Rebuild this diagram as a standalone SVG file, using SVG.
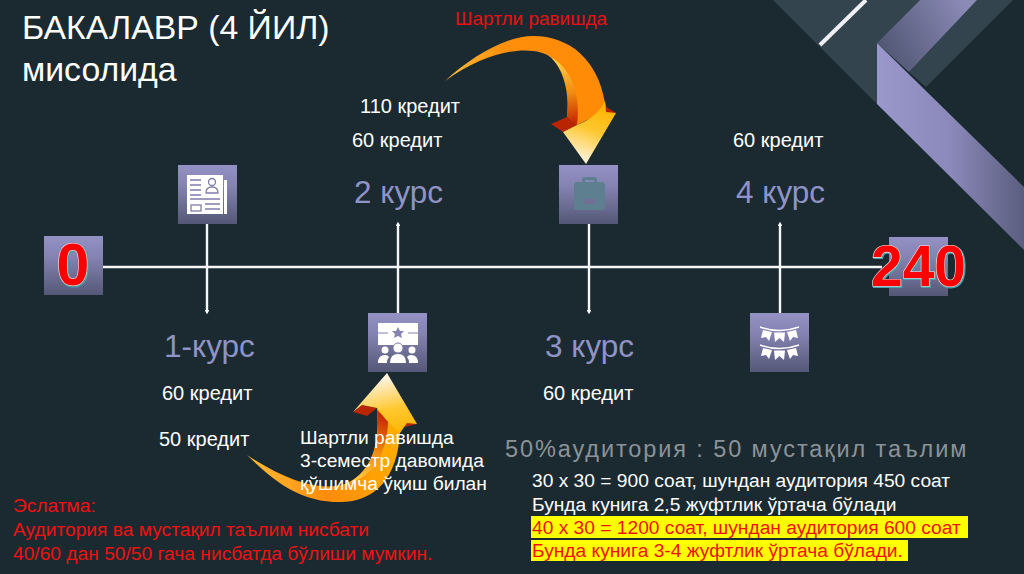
<svg xmlns="http://www.w3.org/2000/svg" width="1024" height="574" viewBox="0 0 1024 574">
<defs>
<linearGradient id="box" x1="0" y1="0" x2="0" y2="1"><stop offset="0" stop-color="#9491c4"/><stop offset="0.35" stop-color="#8583b2"/><stop offset="1" stop-color="#545876"/></linearGradient>
<linearGradient id="band" gradientUnits="userSpaceOnUse" x1="877" y1="0" x2="1024" y2="0"><stop offset="0" stop-color="#9a98cc"/><stop offset="0.5" stop-color="#8b89ba"/><stop offset="1" stop-color="#5a5e7e"/></linearGradient>
<linearGradient id="band2" gradientUnits="userSpaceOnUse" x1="885" y1="60" x2="970" y2="10"><stop offset="0" stop-color="#4f5672"/><stop offset="1" stop-color="#8c8bb8"/></linearGradient>
<linearGradient id="org1" gradientUnits="userSpaceOnUse" x1="445" y1="80" x2="610" y2="80"><stop offset="0" stop-color="#ffbe3a"/><stop offset="0.35" stop-color="#ff8f0c"/><stop offset="1" stop-color="#ff8a05"/></linearGradient>
<linearGradient id="inner1" gradientUnits="userSpaceOnUse" x1="560" y1="60" x2="572" y2="122"><stop offset="0" stop-color="#ffd14a"/><stop offset="0.55" stop-color="#f08a10"/><stop offset="1" stop-color="#c82a00"/></linearGradient>
<linearGradient id="head1" gradientUnits="userSpaceOnUse" x1="600" y1="105" x2="580" y2="160"><stop offset="0" stop-color="#ffb400"/><stop offset="0.45" stop-color="#ffc830"/><stop offset="1" stop-color="#fff3de"/></linearGradient>
<linearGradient id="org2" gradientUnits="userSpaceOnUse" x1="250" y1="480" x2="400" y2="440"><stop offset="0" stop-color="#ffbe3a"/><stop offset="0.45" stop-color="#ff8c0a"/><stop offset="1" stop-color="#ffae00"/></linearGradient>
<linearGradient id="inner2" gradientUnits="userSpaceOnUse" x1="378" y1="415" x2="358" y2="484"><stop offset="0" stop-color="#c82a00"/><stop offset="0.5" stop-color="#f08a10"/><stop offset="1" stop-color="#ffd14a"/></linearGradient>
<linearGradient id="head2" gradientUnits="userSpaceOnUse" x1="398" y1="435" x2="385" y2="378"><stop offset="0" stop-color="#ffb400"/><stop offset="0.45" stop-color="#ffc830"/><stop offset="1" stop-color="#fff3de"/></linearGradient>
<marker id="tip" viewBox="0 0 6 6" refX="3" refY="3" markerWidth="2" markerHeight="2" orient="auto"><path d="M0 0L6 3L0 6Z" fill="#fff"/></marker>
<g id="garland"><path d="M0 0q20 7 39 0" fill="none" stroke="#fff" stroke-width="1.500"/><polygon points="3,3 12,5 9,14 6,10 1,11" fill="#fff"/><polygon points="14,5.500 25,5.500 24,15 19.500,11 15,15" fill="#fff"/><polygon points="27,5 36,3 38,11 33,10 30,14" fill="#fff"/></g>
</defs>
<style>
text{font-family:"Liberation Sans",Arial,sans-serif}
.t{font-size:20px;fill:#fff}
.c{font-size:31.500px;fill:#8f93c6}
.r{font-size:19px;fill:#e81010}
.w{font-size:19.200px;fill:#fff}
.h{font-size:19.200px;fill:#f01010}
.n{font-weight:bold;fill:#ff0000;stroke:#ffe0e0;stroke-width:1.2;paint-order:stroke}
.s{font-weight:bold;fill:#43a0ac;stroke:#43a0ac;stroke-width:2}
.b{fill:url(#box)}
.l{stroke:#f4f6f8;stroke-width:2.4;fill:none}
.i{fill:#fff}
.d{fill:#b82500}
</style>
<rect width="1024" height="574" fill="#1b2a30"/>
<g id="decor">
<polygon points="773,0 877,104 877,43 920,0" fill="#33444f"/>
<polygon points="909,72 977,0 1013,0 926,87" fill="#33444f"/>
<polygon points="877,43 920,0 977,0 909,72" fill="url(#band2)"/>
<polygon points="877,43 1024,187 1024,250 877,104" fill="url(#band)"/>
<line x1="820" y1="45" x2="866" y2="0" stroke="#eef0f6" stroke-width="4"/>
</g>
<g id="connectors">
<line class="l" x1="102" y1="267" x2="882" y2="267"/>
<line class="l" x1="207" y1="224" x2="207" y2="312" marker-end="url(#tip)"/>
<line class="l" x1="398" y1="313" x2="398" y2="224" marker-end="url(#tip)"/>
<line class="l" x1="589" y1="224" x2="589" y2="312" marker-end="url(#tip)"/>
<line class="l" x1="780" y1="313" x2="780" y2="224" marker-end="url(#tip)"/>
</g>
<g id="node-0">
<rect class="b" x="44" y="236" width="59" height="59"/>
<text x="74" y="286" text-anchor="middle" font-size="59" class="s">0</text>
<text x="73" y="285" text-anchor="middle" font-size="59" class="n">0</text>
</g>
<g id="node-240">
<rect class="b" x="889" y="237" width="59" height="59"/>
<text x="919.500" y="287" text-anchor="middle" font-size="57" class="s">240</text>
<text x="918.500" y="286" text-anchor="middle" font-size="57" class="n">240</text>
</g>
<g id="node-1">
<rect class="b" x="178" y="165" width="59" height="59"/>
<rect class="i" x="187" y="175" width="36" height="39"/>
<rect class="i" x="224" y="180" width="3" height="34"/>
<path d="M190 180h11M190 185h11M190 190h11M190 195h11M190 199h30M205 204h15M205 209h15" stroke="#7f7eaa" stroke-width="1.3" fill="none"/>
<circle cx="212" cy="182" r="3.500" fill="none" stroke="#7f7eaa" stroke-width="1.300"/>
<path d="M206 193q0-6 6-6t6 6z" fill="none" stroke="#7f7eaa" stroke-width="1.300"/>
<rect x="191" y="205" width="10" height="6" fill="none" stroke="#7f7eaa" stroke-width="1.300"/>
</g>
<g id="node-2">
<rect class="b" x="368" y="313" width="59" height="59"/>
<rect class="i" x="378" y="323" width="40" height="22"/>
<path d="M378 333h10M408 333h10" stroke="#8583b2" stroke-width="1.200"/>
<polygon points="398,327 400,331 404,331 401,334 402,338 398,336 394,338 395,334 392,331 396,331" fill="#8583b2"/>
<circle cx="398" cy="348" r="5" class="i" stroke="#7f7eaa"/><circle cx="385" cy="350" r="3.500" class="i"/><circle cx="412" cy="350" r="3.500" class="i"/>
<path d="M390 363q0-9 8-9t8 9zM378 363q0-8 7-8 3 0 4 2-2 2-2 6zM418 363q0-8-7-8-3 0-4 2 2 2 2 6z" class="i"/>
</g>
<g id="node-3">
<rect class="b" x="559" y="165" width="59" height="59"/>
<path d="M574 185q0-3 3-3h5v-2q0-3 3-3h9q3 0 3 3v2h5q3 0 3 3v23q0 2-3 2h-25q-3 0-3-2zM585 182h9v-2h-9z" fill="#5d7f8f" fill-rule="evenodd"/>
<rect x="584" y="199" width="11" height="5" fill="#6f7093"/>
</g>
<g id="node-4">
<rect class="b" x="750" y="313" width="59" height="59"/>
<use href="#garland" x="760" y="327"/>
<use href="#garland" x="760" y="345"/>
</g>
<g id="arrow-top">
<path d="M445 81C470 58 505 36 533 36C570 36 598 60 605 103L607 110L577 125L567 117C570 90 565 70 552 58C535 44 490 48 445 81Z" fill="url(#org1)"/>
<path d="M549 56C562 66 570 90 567 117L577 125C581 95 572 68 549 56Z" fill="url(#inner1)"/>
<polygon points="551,124 567,117 577,125 563,132" class="d"/>
<polygon points="605,106 616,113 604,118" class="d"/>
<path d="M605 101L606 112L616 113L586 164L563 132L577 125C590 120 600 112 605 101Z" fill="url(#head1)"/>
</g>
<g id="arrow-bottom">
<path d="M247 455C275 482 300 502 340 502C375 502 398 478 400 431L407 423L377 408C380 445 372 472 345 484C320 492 285 480 247 455Z" fill="url(#org2)"/>
<path d="M377 410C381 440 372 470 350 482C372 478 388 452 388 420Z" fill="url(#inner2)"/>
<polygon points="353,412 362,405 377,408 367,416" class="d"/>
<polygon points="406,419 417,424 405,427" class="d"/>
<path d="M387 373L417 424L407 423L400 433C396 428 388 424 377 408L362 405L353 412Z" fill="url(#head2)"/>
</g>
<g id="labels">
<text x="22" y="39" font-size="33.800" fill="#fff">БАКАЛАВР (4 ЙИЛ)</text>
<text x="22" y="81" font-size="33.800" fill="#fff">мисолида</text>
<text x="455" y="25" class="r">Шартли равишда</text>
<text x="360" y="113" class="t">110 кредит</text>
<text x="352" y="147" class="t">60 кредит</text>
<text x="354" y="203" class="c">2 курс</text>
<text x="733" y="147" class="t">60 кредит</text>
<text x="736" y="203" class="c">4 курс</text>
<text x="164" y="357" class="c">1-курс</text>
<text x="162" y="400" class="t">60 кредит</text>
<text x="159" y="446" class="t">50 кредит</text>
<text x="545" y="357" class="c">3 курс</text>
<text x="543" y="400" class="t">60 кредит</text>
<text x="300" y="444" class="w">Шартли равишда</text>
<text x="300" y="467" class="w">3-семестр давомида</text>
<text x="300" y="490" class="w">қўшимча ўқиш билан</text>
<text x="505" y="457" font-size="23.500" letter-spacing="1.900" fill="#8b9398">50%аудитория : 50 мустақил таълим</text>
<text x="532" y="487" class="w">30 x 30 = 900 соат, шундан аудитория 450 соат</text>
<text x="532" y="511" class="w">Бунда кунига 2,5 жуфтлик ўртача бўлади</text>
<rect x="531" y="516" width="437" height="22" fill="#ffff00"/>
<rect x="531" y="540" width="377" height="21" fill="#ffff00"/>
<text x="532" y="534" class="h">40 x 30 = 1200 соат, шундан аудитория 600 соат</text>
<text x="532" y="557" class="h">Бунда кунига 3-4 жуфтлик ўртача бўлади.</text>
<text x="13" y="512" class="h">Эслатма:</text>
<text x="13" y="536" class="h">Аудитория ва мустақил таълим нисбати</text>
<text x="13" y="560" class="h">40/60 дан 50/50 гача нисбатда бўлиши мумкин.</text>
</g>
</svg>
